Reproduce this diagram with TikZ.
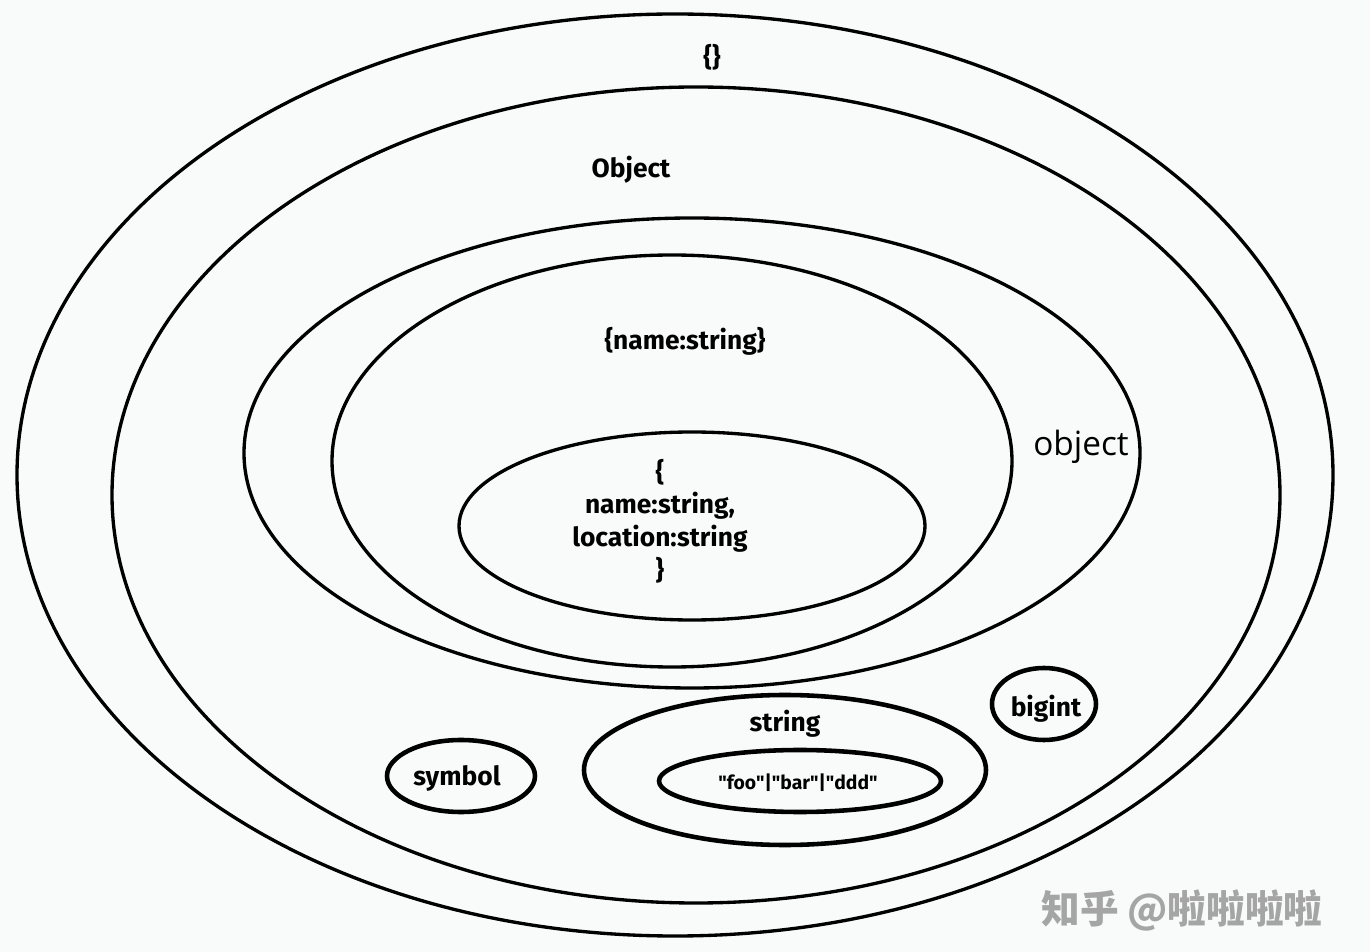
\documentclass[tikz,border=0pt]{standalone}
\usepackage{fontspec}
\setmainfont{Fira Sans}
\newfontfamily\labelfont{Open Sans}
\newfontfamily\cjk{Noto Sans CJK SC}
\definecolor{paper}{RGB}{249,250,250}
\definecolor{mark}{RGB}{165,165,165}

\begin{document}
\begin{tikzpicture}[x=0.02cm, y=-0.02cm,
    ring/.style={line width=1.9pt},
    blob/.style={line width=2.6pt},
    tag/.style={font=\fontsize{15}{18}\selectfont\bfseries, align=center}]
    % page, in pixels of the reference
    \fill[paper] (0, 0) rectangle (1370, 952);
    \useasboundingbox (0, 0) rectangle (1370, 952);

    % nested object types
    \draw[ring] (675, 475) ellipse (658 and 461);
    \node[tag] (empty) at (712, 57) {\{\}};
    \draw[ring] (696, 495) ellipse (584 and 408);
    \node[tag] (Obj) at (631, 170) {Object};
    \draw[ring] (692, 453) ellipse (448 and 235);
    \node[font=\labelfont\fontsize{19}{23}\selectfont] (obj) at (1081, 447) {object};
    \draw[ring] (672, 461) ellipse (340 and 206);
    \node[tag] (one) at (685, 341) {\{name:string\}};
    \draw[ring] (692, 526) ellipse (233 and 94);
    \node[tag, font=\fontsize{15}{18.6}\selectfont\bfseries] (two) at (660, 521)
        {\{\\name:string,\\location:string\\\}};

    % primitives
    \draw[blob] (1044, 704) ellipse (52 and 36);
    \node[tag] (big) at (1046, 709) {bigint};
    \draw[blob] (461, 776) ellipse (74 and 36);
    \node[tag] (sym) at (457, 778) {symbol};
    \draw[blob] (785, 770) ellipse (201 and 75);
    \node[tag] (str) at (785, 724) {string};
    \draw[blob] (800, 781) ellipse (141 and 31);
    \node[tag, font=\fontsize{11}{13}\selectfont\bfseries] (lit) at (798, 783)
        {\textquotedbl foo\textquotedbl|\textquotedbl bar\textquotedbl|\textquotedbl ddd\textquotedbl};

    % watermark
    \node[text=mark, font=\cjk\fontsize{22}{26}\selectfont\bfseries] (wm) at (1182, 910)
        {知乎 @啦啦啦啦};
\end{tikzpicture}
\end{document}
